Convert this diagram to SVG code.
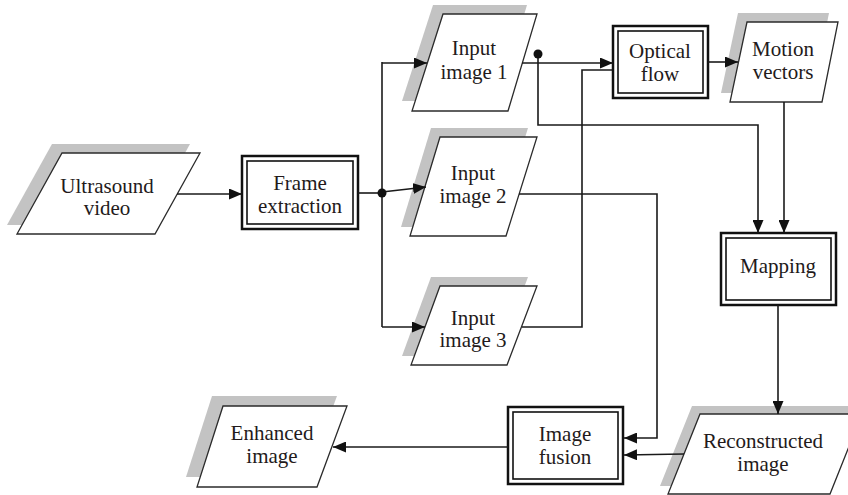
<svg xmlns="http://www.w3.org/2000/svg" width="848" height="495" viewBox="0 0 848 495">
  <style>
    .shadow { fill: #c3c3c3; stroke: none; }
    .para { fill: #ffffff; stroke: #2b2b2b; stroke-width: 1.3; }
    .outer { fill: #ffffff; stroke: #111111; stroke-width: 2.5; }
    .inner { fill: none; stroke: #111111; stroke-width: 1.6; }
    .label { font-family: 'Liberation Serif', 'DejaVu Serif', serif; font-size: 21px; fill: #231a1a; text-anchor: middle; }
    .wire { fill: none; stroke: #1a1a1a; stroke-width: 1.6; }
    .arrow { marker-end: url(#head); }
  </style>
  <defs>
    <marker id="head" markerUnits="userSpaceOnUse" markerWidth="13" markerHeight="11" refX="13" refY="5.5" orient="auto">
      <path d="M0,0 L13,5.5 L0,11 z" fill="#111111"/>
    </marker>
  </defs>
  <rect width="848" height="495" fill="#ffffff"/>

  <!-- data nodes (parallelograms with offset shadow) -->
  <g id="ultrasound-video">
    <polygon class="shadow" points="52,144 190,144 145,225 7,225"/>
    <polygon class="para" points="62,153 200,153 155,234 17,234"/>
    <text class="label" x="107" y="193">Ultrasound</text>
    <text class="label" x="107" y="215">video</text>
  </g>

  <g id="input-image-1">
    <polygon class="shadow" points="433,5 527,5 498,101 402,101"/>
    <polygon class="para" points="443,14 537,14 508,111 412,111"/>
    <text class="label" x="474" y="55">Input</text>
    <text class="label" x="474" y="79">image 1</text>
  </g>

  <g id="input-image-2">
    <polygon class="shadow" points="431,128 528,128 497,227 401,227"/>
    <polygon class="para" points="440,137 537,137 506,236 410,236"/>
    <text class="label" x="473" y="180">Input</text>
    <text class="label" x="473" y="203">image 2</text>
  </g>

  <g id="input-image-3">
    <polygon class="shadow" points="431,277 528,277 498,356 402,356"/>
    <polygon class="para" points="440,286 537,286 507,365 411,365"/>
    <text class="label" x="473" y="325">Input</text>
    <text class="label" x="473" y="347">image 3</text>
  </g>

  <g id="motion-vectors">
    <polygon class="shadow" points="738,13 829,13 813,93 721,93"/>
    <polygon class="para" points="747,22 838,22 822,102 730,102"/>
    <text class="label" x="783" y="56">Motion</text>
    <text class="label" x="783" y="79">vectors</text>
  </g>

  <g id="reconstructed-image">
    <polygon class="shadow" points="692,406 856,406 824,486 660,486"/>
    <polygon class="para" points="700,414 862,414 830,494 668,494"/>
    <text class="label" x="763" y="448">Reconstructed</text>
    <text class="label" x="763" y="471">image</text>
  </g>

  <g id="enhanced-image">
    <polygon class="shadow" points="212,396 337,396 307,477 186,477"/>
    <polygon class="para" points="223,406 347,406 317,487 197,487"/>
    <text class="label" x="272" y="440">Enhanced</text>
    <text class="label" x="272" y="463">image</text>
  </g>

  <!-- process nodes (double-bordered boxes) -->
  <g id="frame-extraction">
    <rect class="outer" x="242" y="156" width="116" height="73"/>
    <rect class="inner" x="247" y="161" width="106" height="63"/>
    <text class="label" x="300" y="190">Frame</text>
    <text class="label" x="300" y="213">extraction</text>
  </g>

  <g id="optical-flow">
    <rect class="outer" x="613" y="26" width="95" height="72"/>
    <rect class="inner" x="618" y="31" width="85" height="62"/>
    <text class="label" x="660" y="58">Optical</text>
    <text class="label" x="660" y="81">flow</text>
  </g>

  <g id="mapping">
    <rect class="outer" x="721" y="233" width="115" height="72"/>
    <rect class="inner" x="726" y="238" width="105" height="62"/>
    <text class="label" x="778" y="273">Mapping</text>
  </g>

  <g id="image-fusion">
    <rect class="outer" x="508" y="407" width="115" height="77"/>
    <rect class="inner" x="513" y="412" width="105" height="67"/>
    <text class="label" x="565" y="441">Image</text>
    <text class="label" x="565" y="464">fusion</text>
  </g>

  <!-- connectors, drawn last so arrowheads sit on top of node outlines -->
  <g id="connectors">
    <path class="wire arrow" d="M177,194 H242"/>
    <path class="wire" d="M358,193 H382"/>
    <path class="wire" d="M382,62 V327"/>
    <path class="wire arrow" d="M382,63 H427"/>
    <path class="wire arrow" d="M382,192 L426,187"/>
    <path class="wire arrow" d="M382,327 H425"/>
    <path class="wire arrow" d="M522,63 H613"/>
    <path class="wire arrow" d="M538,54 V125 H758 V233"/>
    <path class="wire" d="M522,327 H582 V70 H612"/>
    <path class="wire arrow" d="M708,62 H738"/>
    <path class="wire arrow" d="M784,102 V233"/>
    <path class="wire arrow" d="M778,305 V414"/>
    <path class="wire arrow" d="M519,194 H657 V438 H624"/>
    <path class="wire arrow" d="M684,454 L624,455"/>
    <path class="wire arrow" d="M508,447 H333"/>
    <circle cx="382" cy="193" r="4.5" fill="#111111"/>
    <circle cx="538" cy="54" r="4.5" fill="#111111"/>
  </g>
</svg>
